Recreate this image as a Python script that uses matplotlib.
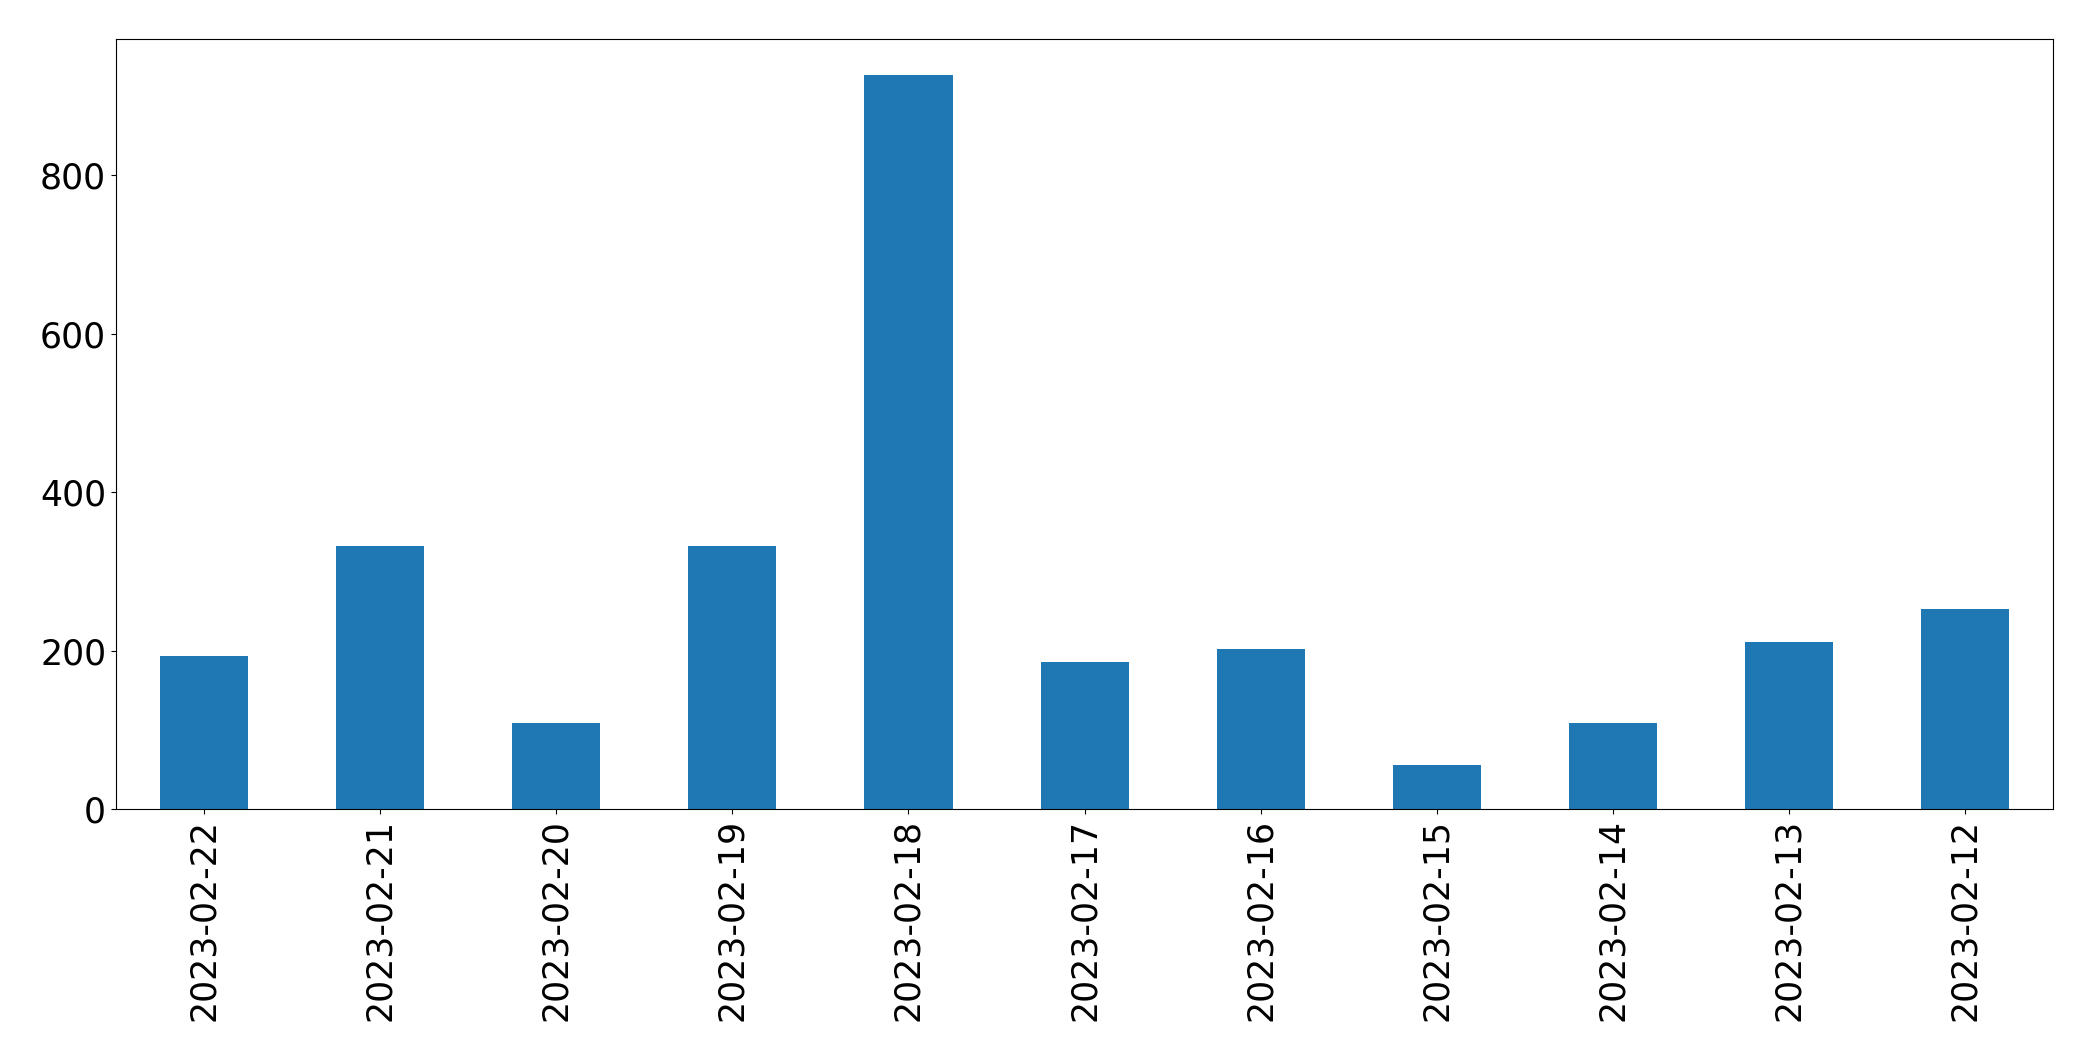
import matplotlib
matplotlib.use("Agg")  # headless backend
import matplotlib.pyplot as plt
import numpy as np

# daily counts, newest first (as in the reference)
dates = [
    "2023-02-22", "2023-02-21", "2023-02-20", "2023-02-19", "2023-02-18",
    "2023-02-17", "2023-02-16", "2023-02-15", "2023-02-14", "2023-02-13",
    "2023-02-12",
]
counts = [193, 332, 109, 332, 926, 185, 202, 56, 109, 211, 252]


def plot_daily_counts(save_path="out.png"):
    fig, ax = plt.subplots(figsize=(20.93, 10.61), dpi=100)

    x = np.arange(len(dates))
    ax.bar(x, counts, width=0.5, color="#1f77b4")

    ax.set_xticks(x)
    ax.set_xticklabels(dates, rotation=90)
    ax.set_xlim(-0.5, len(dates) - 0.5)
    ax.tick_params(axis="both", labelsize=25)

    fig.subplots_adjust(left=0.0554, right=0.981, top=0.9635, bottom=0.2375)
    fig.savefig(save_path, dpi=100)
    return fig


if __name__ == "__main__":
    plot_daily_counts()
    plt.close("all")
